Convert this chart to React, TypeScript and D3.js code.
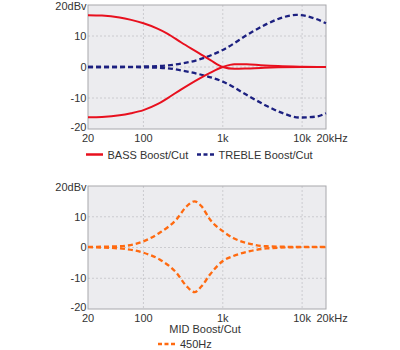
import React from "react";
import * as d3 from "d3";

const xTicks = [20, 100, 1000, 10000, 20000];
const xTickLabels = ["20", "100", "1k", "10k", "20kHz"];
const yTicks = [20, 10, 0, -10, -20];
const yTickLabels = ["20dBv", "10", "0", "-10", "-20"];

const bassFreq = [20, 30, 50, 70, 100, 150, 200, 300, 500, 700, 1000, 1400, 2000, 3000, 5000, 10000, 20000];
const bassBoost = [16.7, 16.6, 16.0, 15.2, 14.1, 12.4, 10.8, 7.9, 4.5, 2.2, 0, -0.6, -0.5, -0.3, -0.1, 0, 0];
const bassCut = [-16.2, -16.1, -15.6, -14.9, -13.9, -12.0, -10.1, -7.2, -3.8, -1.8, 0, 0.9, 0.9, 0.6, 0.3, 0.1, 0];

const trebleBoostFreq = [20, 50, 100, 200, 300, 500, 1000, 2200, 3600, 5700, 8400, 15000, 20000];
const trebleBoost = [0, 0, 0.15, 0.5, 1.1, 2.4, 5.5, 10.9, 13.9, 16.0, 16.8, 15.5, 14.1];
const trebleCutFreq = [20, 50, 100, 200, 300, 500, 1000, 2200, 3600, 5700, 9300, 15000, 20000];
const trebleCut = [0, 0, -0.1, -0.4, -1.1, -2.3, -4.7, -9.6, -12.6, -14.9, -16.3, -16.0, -14.9];

const midFreq = [20, 50, 100, 160, 260, 350, 440, 540, 690, 1000, 1350, 2200, 3600, 10000, 20000];
const midBoost = [0.2, 0.4, 2.0, 4.8, 9.1, 13.4, 15.0, 13.4, 9.1, 5.3, 3.1, 1.2, 0.4, 0.2, 0.2];
const midCut = [0.1, -0.3, -1.7, -3.9, -8.2, -12.6, -14.5, -12.6, -8.8, -4.4, -2.8, -1.2, -0.3, 0.1, 0.1];

const FONT = "'Liberation Sans', Arial, Helvetica, sans-serif";
const TXT = "#333";
const RED = "#e8101e";
const NAVY = "#1c2080";
const ORANGE = "#ff6a10";

type Series = { freq: number[]; vals: number[]; color: string; dash?: string; width: number };

function Panel({ top, bottom, series }: { top: number; bottom: number; series: Series[] }) {
  const left = 88;
  const right = 326;
  const x = d3.scaleLog().domain([20, 20000]).range([left, right]);
  const y = d3.scaleLinear().domain([-20, 20]).range([bottom, top]);
  const line = d3
    .line<[number, number]>()
    .x((d) => x(d[0]))
    .y((d) => y(d[1]))
    .curve(d3.curveMonotoneX);
  return (
    <g>
      <rect x={left} y={top} width={right - left} height={bottom - top} fill="#ececef" />
      {[100, 1000, 10000].map((t) => (
        <line key={"gx" + t} x1={x(t)} x2={x(t)} y1={top} y2={bottom} stroke="#c4c4c8" strokeWidth={0.8} strokeDasharray="2,2" />
      ))}
      {[10, 0, -10].map((t) => (
        <line key={"gy" + t} x1={left} x2={right} y1={y(t)} y2={y(t)} stroke="#c4c4c8" strokeWidth={0.8} strokeDasharray="2,2" />
      ))}
      <rect x={left} y={top} width={right - left} height={bottom - top} fill="none" stroke="#a8a8ac" strokeWidth={1} />
      {series.map((s, i) => (
        <path
          key={i}
          d={line(s.freq.map((f, j) => [f, s.vals[j]] as [number, number])) || ""}
          fill="none"
          stroke={s.color}
          strokeWidth={s.width}
          strokeDasharray={s.dash}
        />
      ))}
      {yTicks.map((t, i) => (
        <text
          key={"yl" + t}
          x={left - 1.5}
          y={y(t) + (t === -20 ? -1.5 : t === 20 ? 0.8 : 0)}
          dy="0.35em"
          textAnchor="end"
          fontFamily={FONT}
          fontSize={11}
          fill={TXT}
        >
          {yTickLabels[i]}
        </text>
      ))}
      {xTicks.map((t, i) => (
        <text
          key={"xl" + t}
          x={t === 20000 ? x(t) - 9.5 : x(t)}
          y={bottom + 12.5}
          textAnchor={t === 20000 ? "start" : "middle"}
          fontFamily={FONT}
          fontSize={11}
          fill={TXT}
        >
          {xTickLabels[i]}
        </text>
      ))}
    </g>
  );
}

export default function App() {
  const topSeries: Series[] = [
    { freq: trebleBoostFreq, vals: trebleBoost, color: NAVY, dash: "5,3", width: 2.3 },
    { freq: trebleCutFreq, vals: trebleCut, color: NAVY, dash: "5,3", width: 2.3 },
    { freq: bassFreq, vals: bassBoost, color: RED, width: 2 },
    { freq: bassFreq, vals: bassCut, color: RED, width: 2 },
  ];
  const bottomSeries: Series[] = [
    { freq: midFreq, vals: midBoost, color: ORANGE, dash: "5,3", width: 2.3 },
    { freq: midFreq, vals: midCut, color: ORANGE, dash: "5,3", width: 2.3 },
  ];
  return (
    <svg width={400} height={350} style={{ position: "absolute", left: 0, top: 0, background: "#fff" }}>
      <Panel top={5} bottom={129} series={topSeries} />
      <line x1={86} x2={103} y1={154.5} y2={154.5} stroke={RED} strokeWidth={2.5} />
      <text x={107.5} y={158.5} fontFamily={FONT} fontSize={11} fill={TXT}>BASS Boost/Cut</text>
      <line x1={197} x2={214} y1={154.5} y2={154.5} stroke={NAVY} strokeWidth={2.5} strokeDasharray="4,2.5" />
      <text x={218.5} y={158.5} fontFamily={FONT} fontSize={11} fill={TXT}>TREBLE Boost/Cut</text>

      <Panel top={186} bottom={309} series={bottomSeries} />
      <text x={205} y={333} textAnchor="middle" fontFamily={FONT} fontSize={11} fill={TXT}>MID Boost/Cut</text>
      <line x1={158} x2={176} y1={344} y2={344} stroke={ORANGE} strokeWidth={2.5} strokeDasharray="4,2.5" />
      <text x={180} y={348} fontFamily={FONT} fontSize={11} fill={TXT}>450Hz</text>
    </svg>
  );
}
